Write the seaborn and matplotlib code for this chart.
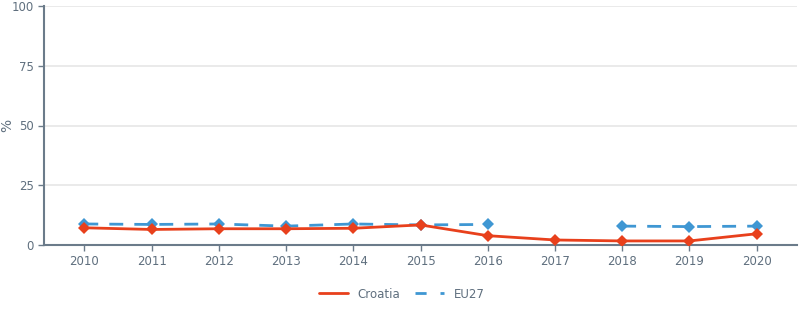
import numpy as np
import pandas as pd
import matplotlib
matplotlib.use("Agg")
import matplotlib.pyplot as plt
import seaborn as sns
from matplotlib.lines import Line2D

years = [2010, 2011, 2012, 2013, 2014, 2015, 2016, 2017, 2018, 2019, 2020]
croatia = [7.2, 6.5, 6.8, 6.8, 7.0, 8.4, 3.9, 2.1, 1.7, 1.7, 4.7]
eu27 = [8.8, 8.6, 8.8, 7.9, 8.8, 8.4, 8.6, np.nan, 7.9, 7.7, 7.9]
yticks = [0, 25, 50, 75, 100]

sns.set_theme(style="white")
plt.rcParams['font.family'] = ['DejaVu Sans']

axis_col = "#6b7b8a"
text_col = "#5f6f7e"
red = "#e8401c"
blue = "#3f97d3"

fig = plt.figure(figsize=(8.03, 3.23), dpi=100)
ax = fig.add_axes([44/803, 1 - 245/323, (797-44)/803, (245-6)/323])

df = pd.DataFrame({"year": years, "Croatia": croatia, "EU27": eu27})
# segment id so the missing year leaves a gap
seg = np.cumsum(pd.isna(df["EU27"]).astype(int))
df["seg"] = seg
eu_df = df.dropna(subset=["EU27"])

sns.lineplot(data=eu_df, x="year", y="EU27", units="seg", estimator=None, ax=ax,
             color=blue, linewidth=2, marker="D", markersize=6, markeredgewidth=0, zorder=2)
for l in ax.lines:
    l.set_dashes([5, 4])
sns.lineplot(data=df, x="year", y="Croatia", ax=ax, color=red, linewidth=2,
             marker="D", markersize=6, markeredgewidth=0, zorder=3)

ax.set_xlim(2009.4, 2020.6)
ax.set_ylim(0, 100)
ax.set_yticks(yticks)
ax.set_xticks(years)
ax.set_xticklabels([str(y) for y in years])
ax.grid(axis="y", color="#e6e6e6", linewidth=1.2)
ax.set_axisbelow(True)
for s in ["top", "right"]:
    ax.spines[s].set_visible(False)
ax.spines["left"].set_color(axis_col)
ax.spines["bottom"].set_color(axis_col)
ax.spines["left"].set_linewidth(1.5)
ax.spines["bottom"].set_linewidth(1.5)
ax.tick_params(axis="both", colors=axis_col, labelcolor=text_col, labelsize=8.5,
               length=4, width=1, direction="out", left=True, bottom=True)
ax.set_xlabel("")
ax.set_ylabel("%", color=text_col, fontsize=10, labelpad=2)
ax.yaxis.set_label_coords(-30/753, 0.5)

handles = [Line2D([0], [0], color=red, lw=2),
           Line2D([0], [0], color=blue, lw=2, dashes=[4, 5])]
fig.legend(handles, ["Croatia", "EU27"], loc="center", bbox_to_anchor=(0.5, 1 - 294/323),
           ncol=2, frameon=False, fontsize=8.5, labelcolor=text_col,
           handlelength=2.5, columnspacing=1.2)

fig.savefig("out.png", dpi=100)
